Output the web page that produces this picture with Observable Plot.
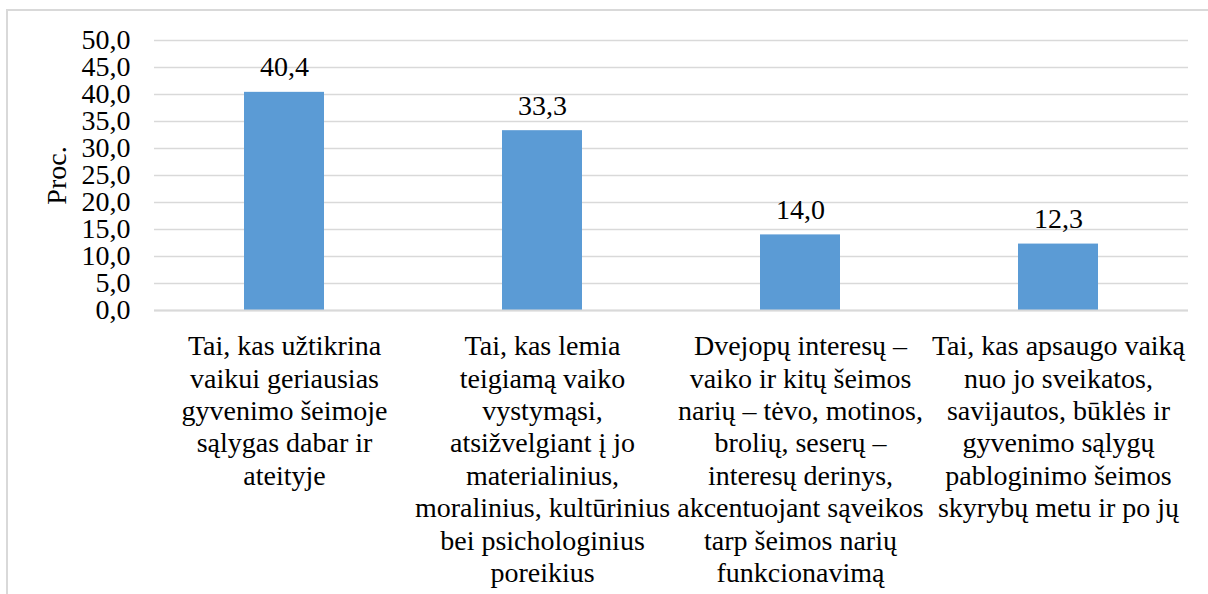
<!DOCTYPE html>
<html>
<head>
<meta charset="utf-8">
<script src="https://cdn.jsdelivr.net/npm/d3@7"></script>
<script src="https://cdn.jsdelivr.net/npm/@observablehq/plot@0.6"></script>
<style>
  html, body { margin: 0; padding: 0; background: #fff; }
  #wrap { position: relative; width: 1208px; height: 594px; overflow: hidden; }
  #border { position: absolute; left: 6px; top: 9px; right: -10px; bottom: -10px;
            border-top: 2px solid #d9d9d9; border-left: 2px solid #d9d9d9; }
  #chart { position: absolute; left: 0; top: 0; }
  #chart svg, #chart svg text, #chart svg tspan { font-family: "Liberation Serif", "Times New Roman", serif !important; }
</style>
</head>
<body>
<div id="wrap"><div id="border"></div><div id="chart"></div></div>
<script>
const categories = [
  "Tai, kas užtikrina\nvaikui geriausias\ngyvenimo šeimoje\nsąlygas dabar ir\nateityje",
  "Tai, kas lemia\nteigiamą vaiko\nvystymąsi,\natsižvelgiant į jo\nmaterialinius,\nmoralinius, kultūrinius\nbei psichologinius\nporeikius",
  "Dvejopų interesų –\nvaiko ir kitų šeimos\nnarių – tėvo, motinos,\nbrolių, seserų –\ninteresų derinys,\nakcentuojant sąveikos\ntarp šeimos narių\nfunkcionavimą",
  "Tai, kas apsaugo vaiką\nnuo jo sveikatos,\nsavijautos, būklės ir\ngyvenimo sąlygų\npabloginimo šeimos\nskyrybų metu ir po jų"
];
const values = [40.4, 33.3, 14.0, 12.3];
const yTicks = [0, 5, 10, 15, 20, 25, 30, 35, 40, 45, 50];
const yLabel = "Proc.";

const data = categories.map((c, i) => ({category: c, value: values[i]}));
const fmt = d => d.toFixed(1).replace(".", ",");

const chart = Plot.plot({
  width: 1208,
  height: 594,
  marginLeft: 154,
  marginRight: 20,
  marginTop: 40,
  marginBottom: 284,
  style: {fontSize: "28px", color: "#000", background: "transparent"},
  x: {domain: categories, paddingInner: 0.69, paddingOuter: 0.345, align: 0.5},
  y: {domain: [0, 50]},
  marks: [
    Plot.gridY(yTicks, {stroke: "#d9d9d9", strokeOpacity: 1, strokeWidth: 1.5}),
    Plot.barY(data, {x: "category", y: "value", fill: "#5b9bd5"}),
    Plot.ruleY([0], {stroke: "#d9d9d9", strokeWidth: 2}),
    Plot.text(data, {x: "category", y: "value", text: d => fmt(d.value), lineAnchor: "bottom", dy: -16, fontSize: 28, fill: "#000"}),
    Plot.axisY(yTicks, {tickSize: 0, tickPadding: 24, tickFormat: fmt, fontSize: 28, fill: "#000",
      label: yLabel, labelAnchor: "center", labelArrow: "none", labelOffset: 108}),
    Plot.axisX({tickSize: 0, tickPadding: 22, fontSize: 28, lineHeight: 1.155, fill: "#000", label: null, textOverflow: null})
  ]
});
document.getElementById("chart").appendChild(chart);
</script>
</body>
</html>
